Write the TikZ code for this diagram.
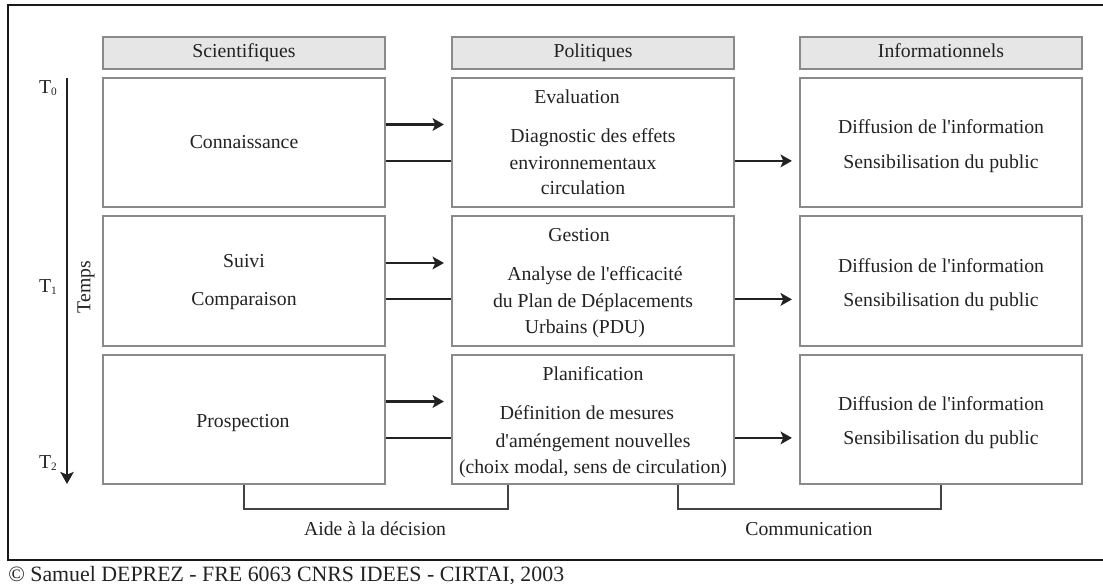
\documentclass[tikz,border=0pt]{standalone}
\usepackage{fontspec}
\setmainfont{Liberation Serif}
\usetikzlibrary{arrows.meta,calc}
\definecolor{boxline}{HTML}{8A8A8A}
\definecolor{hdrfill}{HTML}{E6E6E6}
\definecolor{ink}{HTML}{222222}
\newcommand\mysubdigit[1]{\raisebox{-1.5pt}{\fontsize{8.5}{8.5}\selectfont #1}}
\begin{document}
\begin{tikzpicture}[x=0.75pt,y=-0.75pt,
  font=\fontsize{14.8}{18}\selectfont,
  txt/.style={anchor=base,inner sep=0pt,text=ink},
  hdr/.style={draw=boxline,fill=hdrfill,line width=1.1pt,minimum width=211.5pt,minimum height=24pt,inner sep=0pt,text height=10pt,text depth=3pt,text=ink},
  cell/.style={draw=boxline,line width=1.1pt,minimum width=211.5pt,inner sep=0pt},
  conn/.style={draw=ink,line width=1.6pt},
  arr/.style={conn,-{Stealth[length=8.5pt,width=9.5pt,inset=2pt]},shorten >=5.5pt},
  bracket/.style={draw=ink!85,line width=1.6pt}
]
\useasboundingbox (0,0) rectangle (1103,584);
\draw[line width=1.5pt,draw=black!90] (8,5) rectangle (1130,560);

% headers
\node[hdr] (hS) at (244,53) {Scientifiques};
\node[hdr] (hP) at (593,53) {Politiques};
\node[hdr] (hI) at (941,53) {Informationnels};

% cells
\node[cell,minimum height=96.75pt] (L1) at (244,142.5) {};
\node[cell,minimum height=96.75pt] (M1) at (593,142.5) {};
\node[cell,minimum height=96.75pt] (R1) at (941,142.5) {};
\node[cell,minimum height=97.5pt] (L2) at (244,281) {};
\node[cell,minimum height=97.5pt] (M2) at (593,281) {};
\node[cell,minimum height=97.5pt] (R2) at (941,281) {};
\node[cell,minimum height=96.75pt] (L3) at (244,419.5) {};
\node[cell,minimum height=96.75pt] (M3) at (593,419.5) {};
\node[cell,minimum height=96.75pt] (R3) at (941,419.5) {};

% texts row 1
\node[txt] (tL1) at (244,149) {Connaissance};
\node[txt] (tM1a) at (577,104) {Evaluation};
\node[txt] (tM1b) at (593,143) {Diagnostic des effets};
\node[txt] (tM1c) at (583,170) {environnementaux};
\node[txt] (tM1d) at (583,195) {circulation};
\node[txt] (tR1a) at (941,134) {Diffusion de l\textquotesingle information};
\node[txt] (tR1b) at (941,169) {Sensibilisation du public};

% texts row 2
\node[txt] (tL2a) at (244,268) {Suivi};
\node[txt] (tL2b) at (244,306) {Comparaison};
\node[txt] (tM2a) at (579,242) {Gestion};
\node[txt] (tM2b) at (595,281) {Analyse de l\textquotesingle efficacité};
\node[txt] (tM2c) at (593,308) {du Plan de Déplacements};
\node[txt] (tM2d) at (585,334) {Urbains (PDU)};
\node[txt] (tR2a) at (941,273) {Diffusion de l\textquotesingle information};
\node[txt] (tR2b) at (941,307) {Sensibilisation du public};

% texts row 3
\node[txt] (tL3) at (243,427) {Prospection};
\node[txt] (tM3a) at (593,381) {Planification};
\node[txt] (tM3b) at (587,420) {Définition de mesures};
\node[txt] (tM3c) at (593,447) {d\textquotesingle améngement nouvelles};
\node[txt] (tM3d) at (593,473) {(choix modal, sens de circulation)};
\node[txt] (tR3a) at (941,411) {Diffusion de l\textquotesingle information};
\node[txt] (tR3b) at (941,445) {Sensibilisation du public};

% connectors
\foreach \i in {1,2,3} {
  \draw[arr] ([yshift=13.5pt]L\i.east) -- ([yshift=13.5pt]M\i.west);
  \draw[conn] ([yshift=-13.8pt]L\i.east) -- ([yshift=-13.8pt]M\i.west);
  \draw[arr] ([yshift=-13.8pt]M\i.east) -- ([yshift=-13.8pt]R\i.west);
}

% time axis
\coordinate (ts) at (67,78);
\coordinate (te) at (67,484);
\draw[conn,-{Stealth[length=9pt,width=10pt,inset=2pt]}] (ts) -- (te);
\node[txt] (T0) at (48,94) {T\mysubdigit{0}};
\node[txt] (T1) at (48,293) {T\mysubdigit{1}};
\node[txt] (T2) at (48,469) {T\mysubdigit{2}};
\node[anchor=center,inner sep=0pt,rotate=90,text=ink] (temps) at (86,287) {Temps};

% brackets
\coordinate (a1) at ($(M3.south west)!0.2!(M3.south east)$);
\coordinate (a2) at ($(M3.south west)!0.8!(M3.south east)$);
\draw[bracket] (L3.south) -- ++(0,24) -| (a1);
\draw[bracket] (a2) -- ++(0,24) -| (R3.south);
\node[txt] (aide) at (375,535) {Aide à la décision};
\node[txt] (comm) at (809,535) {Communication};

% copyright
\node[txt,anchor=base west,font=\fontsize{16.4}{18}\selectfont] (copy) at (8,581) {© Samuel DEPREZ - FRE 6063 CNRS IDEES - CIRTAI, 2003};
\end{tikzpicture}
\end{document}
